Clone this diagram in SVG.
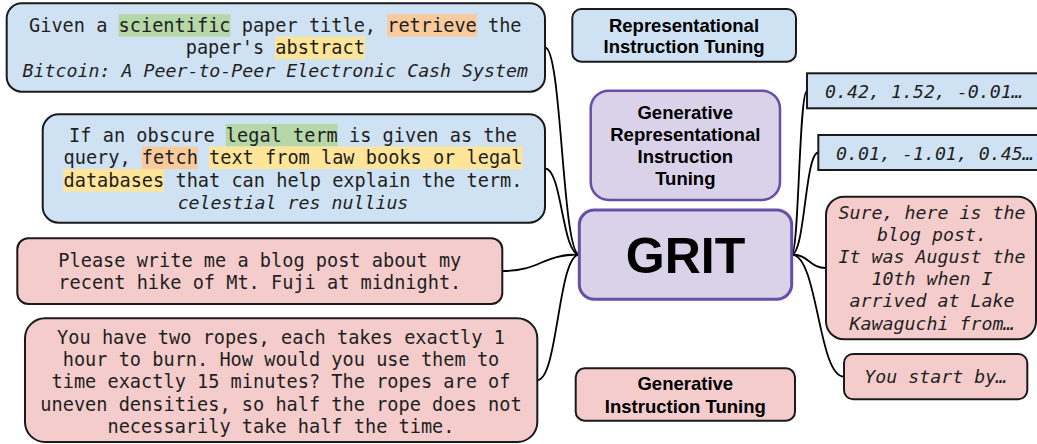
<svg xmlns="http://www.w3.org/2000/svg" width="1037" height="444" viewBox="0 0 1037 444">
<style>
.blue{fill:#cfe2f3;stroke:#1a1a1a;stroke-width:2}
.pink{fill:#f4cccc;stroke:#1a1a1a;stroke-width:2}
.purple{fill:#d9d2e9;stroke:#674ea7;stroke-width:2.5}
.mono{font-family:"DejaVu Sans Mono","Liberation Mono",monospace;font-size:18.6px;fill:#1f1f1f;text-anchor:middle}
.it{font-family:"DejaVu Sans Mono","Liberation Mono",monospace;font-size:18.25px;font-style:italic;fill:#1f1f1f;text-anchor:middle}
.its{font-family:"DejaVu Sans Mono","Liberation Mono",monospace;font-size:18.25px;font-style:italic;fill:#1f1f1f}
.sans{font-family:"Liberation Sans",Arial,sans-serif;font-weight:bold;font-size:18.5px;fill:#000;text-anchor:middle}
.hg{fill:#b6d7a8}
.ho{fill:#f9cb9c}
.hy{fill:#ffe599}
.conn{fill:none;stroke:#000;stroke-width:1.8}
</style>

<g id="connectors">
<path class="conn" d="M545,47.5 C562,47.5 562,254.5 579.3,254.5"/>
<path class="conn" d="M545,168.5 C562,168.5 562,254.5 579.3,254.5"/>
<path class="conn" d="M502.3,271 C541,271 541,254.5 579.3,254.5"/>
<path class="conn" d="M537.3,380 C558,380 558,254.5 579.3,254.5"/>
<path class="conn" d="M791.7,254.5 C799,254.5 799,90.8 807,90.8"/>
<path class="conn" d="M791.7,254.5 C805,254.5 805,152.5 818.3,152.5"/>
<path class="conn" d="M791.7,254.5 C809,254.5 809,268 826,268"/>
<path class="conn" d="M791.7,254.5 C818,254.5 818,376.7 844,376.7"/>
</g>

<g id="node-scientific">
<rect class="blue" x="6.7" y="3.3" width="538.3" height="88.4" rx="15"/>
<rect class="hg" x="118.4" y="14.2" width="112" height="22.5"/>
<rect class="ho" x="387.3" y="14.2" width="89.6" height="22.5"/>
<rect class="hy" x="275.3" y="36.7" width="89.6" height="22.5"/>
<text class="mono" x="275.3" y="31.7">Given a scientific paper title, retrieve the</text>
<text class="mono" x="275.3" y="54.2">paper's abstract</text>
<text class="it" x="275.3" y="76.7">Bitcoin: A Peer-to-Peer Electronic Cash System</text>
</g>

<g id="node-legal">
<rect class="blue" x="42.7" y="114.3" width="502.3" height="108.4" rx="16"/>
<rect class="hg" x="225.8" y="124" width="112" height="22.5"/>
<rect class="ho" x="141.7" y="146.5" width="56" height="22.5"/>
<rect class="hy" x="209" y="146.5" width="313.7" height="22.5"/>
<rect class="hy" x="63.3" y="169" width="100.8" height="22.5"/>
<text class="mono" x="293" y="141.5">If an obscure legal term is given as the</text>
<text class="mono" x="293" y="164">query, fetch text from law books or legal</text>
<text class="mono" x="293" y="186.5">databases that can help explain the term.</text>
<text class="it" x="293" y="209">celestial res nullius</text>
</g>

<g id="node-blog">
<rect class="pink" x="17.3" y="238.3" width="485" height="65.7" rx="11"/>
<text class="mono" x="259.8" y="266.5">Please write me a blog post about my</text>
<text class="mono" x="259.8" y="288.5">recent hike of Mt. Fuji at midnight.</text>
</g>

<g id="node-ropes">
<rect class="pink" x="25" y="318.3" width="512.3" height="123.7" rx="20"/>
<text class="mono" x="281" y="343.7">You have two ropes, each takes exactly 1</text>
<text class="mono" x="281" y="366">hour to burn. How would you use them to</text>
<text class="mono" x="281" y="388.3">time exactly 15 minutes? The ropes are of</text>
<text class="mono" x="281" y="410.6">uneven densities, so half the rope does not</text>
<text class="mono" x="281" y="432.9">necessarily take half the time.</text>
</g>

<g id="label-rep">
<rect class="blue" x="572.3" y="9" width="223.7" height="52.7" rx="9"/>
<text class="sans" x="684" y="31.7">Representational</text>
<text class="sans" x="684" y="53.3">Instruction Tuning</text>
</g>

<g id="label-grit-full">
<rect class="purple" x="590.7" y="90.7" width="189.3" height="109.3" rx="18"/>
<text class="sans" x="685.3" y="118.5">Generative</text>
<text class="sans" x="685.3" y="140.8">Representational</text>
<text class="sans" x="685.3" y="163.1">Instruction</text>
<text class="sans" x="685.3" y="185.4">Tuning</text>
</g>

<g id="node-grit">
<rect class="purple" x="579.3" y="210" width="212.4" height="89.3" rx="15" style="stroke-width:3"/>
<text class="sans" x="685.5" y="272.5" style="font-size:50px">GRIT</text>
</g>

<g id="label-gen">
<rect class="pink" x="575.7" y="368.3" width="219.3" height="52.4" rx="9"/>
<text class="sans" x="685.3" y="390">Generative</text>
<text class="sans" x="685.3" y="412.5">Instruction Tuning</text>
</g>

<g id="node-emb1">
<rect class="blue" x="807" y="73.3" width="240" height="35"/>
<text class="its" x="825" y="97.5">0.42, 1.52, -0.01…</text>
</g>

<g id="node-emb2">
<rect class="blue" x="818.3" y="135" width="240" height="35"/>
<text class="its" x="836" y="159.5">0.01, -1.01, 0.45…</text>
</g>

<g id="node-sure">
<rect class="pink" x="826" y="196.7" width="210" height="142.6" rx="18"/>
<text class="it" x="932" y="218.5">Sure, here is the</text>
<text class="it" x="932" y="240.7">blog post.</text>
<text class="it" x="932" y="262.9">It was August the</text>
<text class="it" x="932" y="285.1">10th when I</text>
<text class="it" x="932" y="307.3">arrived at Lake</text>
<text class="it" x="932" y="329.5">Kawaguchi from…</text>
</g>

<g id="node-start">
<rect class="pink" x="844" y="354" width="183.3" height="45.3" rx="9"/>
<text class="it" x="935.7" y="383">You start by…</text>
</g>
</svg>
